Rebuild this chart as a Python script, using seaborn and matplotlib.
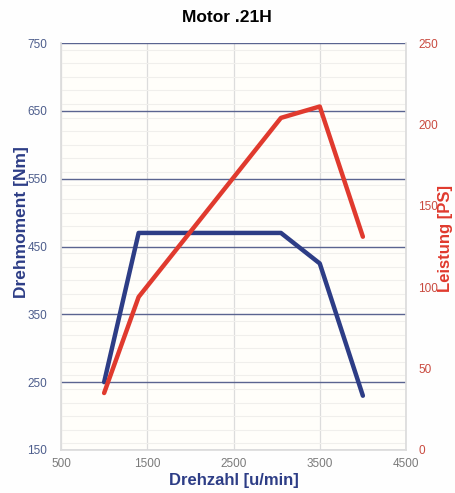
import matplotlib
matplotlib.use("Agg")
import matplotlib.pyplot as plt
import seaborn as sns
import pandas as pd
from matplotlib.ticker import MultipleLocator

rpm_torque = [1000, 1400, 3050, 3500, 4000]
torque_nm = [250, 470, 470, 425, 230]
rpm_power = [1000, 1400, 3050, 3500, 4000]
power_ps = [35, 94, 204, 211, 131]

x_ticks = [500, 1500, 2500, 3500, 4500]
left_ticks = [150, 250, 350, 450, 550, 650, 750]
right_ticks = [0, 50, 100, 150, 200, 250]

sns.set_theme(style="white")
plt.rcParams['font.family'] = ['Liberation Sans', 'DejaVu Sans']

BLUE = "#2d3d86"
RED = "#e03a2e"
BLUE_TXT = "#4d5d8c"
RED_TXT = "#c94a3f"

fig = plt.figure(figsize=(4.55, 4.93), dpi=100)
fig.patch.set_facecolor("#fefefe")
ax = fig.add_axes([61/455, 43/493, 345/455, 407/493])
ax.set_facecolor("#fffefa")

df_t = pd.DataFrame({"rpm": rpm_torque, "torque": torque_nm})
df_p = pd.DataFrame({"rpm": rpm_power, "power": power_ps})

ax.set_xlim(500, 4500)
ax.set_ylim(150, 750)
ax.set_xticks(x_ticks)
ax.set_yticks(left_ticks)
ax.yaxis.set_minor_locator(MultipleLocator(20))
ax.grid(True, which="minor", axis="y", color="#f0efec", lw=0.8)
ax.grid(True, which="major", axis="y", color="#5a6490", lw=1.0)
ax.grid(True, which="major", axis="x", color="#dcdcdc", lw=0.9)
ax.set_axisbelow(True)
for s in ax.spines.values():
    s.set_visible(False)
for side in ("left", "right", "bottom"):
    ax.spines[side].set_visible(True)
    ax.spines[side].set_color("#dcdcdc")

sns.lineplot(data=df_t, x="rpm", y="torque", ax=ax, color=BLUE, lw=3.2, zorder=3)

ax2 = ax.twinx()
ax2.set_ylim(0, 250)
ax2.set_yticks(right_ticks)
ax2.grid(False)
for s in ax2.spines.values():
    s.set_visible(False)
sns.lineplot(data=df_p, x="rpm", y="power", ax=ax2, color=RED, lw=3.2, zorder=3)

ax.tick_params(axis="x", colors="#7a7a7a", labelsize=8.5, length=0, pad=6)
ax.tick_params(axis="y", which="both", colors=BLUE_TXT, labelsize=8.5, length=0, pad=10)
ax2.tick_params(axis="y", which="both", colors=RED_TXT, labelsize=8.5, length=0, pad=9)

ax.set_xlabel("Drehzahl [u/min]", color=BLUE, fontsize=12, fontweight="bold", labelpad=2)
ax.set_ylabel("Drehmoment [Nm]", color=BLUE, fontsize=12.5, fontweight="bold")
ax.yaxis.set_label_coords(-0.093, 0.56)
ax2.set_ylabel("Leistung [PS]", color=RED, fontsize=12, fontweight="bold", rotation=90)
ax2.yaxis.set_label_coords(1.094, 0.52)

fig.text(227/455, 1 - 18/493, "Motor .21H", ha="center", va="center", fontsize=12.5, fontweight="bold", color="black")

fig.savefig("out.png", dpi=100, facecolor=fig.get_facecolor())
